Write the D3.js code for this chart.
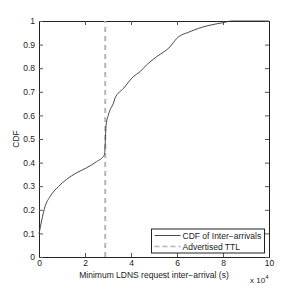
<!DOCTYPE html>
<html>
<head>
<meta charset="utf-8">
<script src="https://cdn.jsdelivr.net/npm/d3@7"></script>
<style>
  body { margin: 0; background: #fff; }
  text { font-family: "Liberation Sans", Arial, sans-serif; }
</style>
</head>
<body>
<div id="chart"></div>
<script>
// inter-arrival in units of 1e4 s, cdf value
const interArrival = [0, 0.12, 0.26, 0.48, 0.84, 1.2, 1.64, 2.07, 2.5, 2.84, 2.87, 2.89, 2.91, 3.01, 3.12, 3.23, 3.3, 3.67, 4.1, 4.39, 4.68, 4.83, 5.12, 5.7, 5.99, 6.57, 7.29, 8.01, 8.38, 10];
const cdf = [0.097, 0.157, 0.213, 0.256, 0.298, 0.329, 0.357, 0.378, 0.404, 0.432, 0.46, 0.51, 0.552, 0.6, 0.63, 0.65, 0.672, 0.714, 0.764, 0.785, 0.814, 0.827, 0.849, 0.891, 0.926, 0.955, 0.979, 0.993, 1.0, 1.0];
const ttl = 2.88;
const xTicks = [0, 2, 4, 6, 8, 10];
const yTicks = [0, 0.1, 0.2, 0.3, 0.4, 0.5, 0.6, 0.7, 0.8, 0.9, 1];
const legendLabels = ['CDF of Inter\u2212arrivals', 'Advertised TTL'];

const width = 297, height = 290;
const marginLeft = 39, marginRight = 28, marginTop = 21, marginBottom = 33;

const x = d3.scaleLinear().domain([0, 10]).range([marginLeft, width - marginRight]);
const y = d3.scaleLinear().domain([0, 1]).range([height - marginBottom, marginTop]);

const svg = d3.select('#chart').append('svg')
  .attr('width', width)
  .attr('height', height);

const fmt = d => d3.format('')(d);

// axes with inward ticks
svg.append('g')
  .attr('transform', `translate(0,${y(0)})`)
  .call(d3.axisBottom(x).tickValues(xTicks).tickSize(-4).tickPadding(3).tickFormat(fmt))
  .call(g => g.selectAll('text').attr('font-size', 8.5));
svg.append('g')
  .attr('transform', `translate(0,${y(1)})`)
  .call(d3.axisTop(x).tickValues(xTicks).tickSize(-4).tickFormat(''));
svg.append('g')
  .attr('transform', `translate(${x(0)},0)`)
  .call(d3.axisLeft(y).tickValues(yTicks).tickSize(-4).tickPadding(4).tickFormat(fmt))
  .call(g => g.selectAll('text').attr('font-size', 8.5));
svg.append('g')
  .attr('transform', `translate(${x(10)},0)`)
  .call(d3.axisRight(y).tickValues(yTicks).tickSize(-4).tickFormat(''));

svg.selectAll('.domain').attr('stroke', '#222');
svg.selectAll('.tick line').attr('stroke', '#555');
svg.selectAll('.tick text').attr('fill', '#222');

// TTL dashed line
svg.append('line')
  .attr('x1', x(ttl)).attr('x2', x(ttl))
  .attr('y1', y(0)).attr('y2', y(1))
  .attr('stroke', '#b5b5b5')
  .attr('stroke-width', 2)
  .attr('stroke-dasharray', '5,4');

// CDF curve
const pts = interArrival.map((v, i) => [v, cdf[i]]);
svg.append('path')
  .datum(pts)
  .attr('fill', 'none')
  .attr('stroke', '#333')
  .attr('stroke-width', 0.9)
  .attr('d', d3.line().x(d => x(d[0])).y(d => y(d[1])).curve(d3.curveMonotoneX));

// labels
svg.append('text')
  .attr('x', (x(0) + x(10)) / 2)
  .attr('y', 278)
  .attr('text-anchor', 'middle')
  .attr('font-size', 8.5)
  .attr('fill', '#222')
  .text('Minimum LDNS request inter\u2212arrival (s)');

svg.append('text')
  .attr('transform', `translate(18.5,${(y(0) + y(1)) / 2}) rotate(-90)`)
  .attr('text-anchor', 'middle')
  .attr('font-size', 8.5)
  .attr('fill', '#222')
  .text('CDF');

const exp = svg.append('text')
  .attr('x', 250)
  .attr('y', 283)
  .attr('font-size', 8)
  .attr('fill', '#222');
exp.append('tspan').text('x 10');
exp.append('tspan').attr('dy', -4).attr('font-size', 6).text('4');

// legend
const lg = svg.append('g').attr('transform', 'translate(151.5,229)');
lg.append('rect')
  .attr('width', 113).attr('height', 24)
  .attr('fill', '#fff').attr('stroke', '#222').attr('stroke-width', 1);
lg.selectAll('line.leg')
  .data(legendLabels)
  .join('line')
  .attr('class', 'leg')
  .attr('x1', 3).attr('x2', 29)
  .attr('y1', (d, i) => 6.5 + i * 11).attr('y2', (d, i) => 6.5 + i * 11)
  .attr('stroke', (d, i) => i ? '#b5b5b5' : '#333')
  .attr('stroke-width', (d, i) => i ? 1.5 : 0.9)
  .attr('stroke-dasharray', (d, i) => i ? '5,3' : null);
lg.selectAll('text')
  .data(legendLabels)
  .join('text')
  .attr('x', 31)
  .attr('y', (d, i) => 9.5 + i * 11)
  .attr('font-size', 8.5)
  .attr('fill', '#222')
  .text(d => d);
</script>
</body>
</html>
